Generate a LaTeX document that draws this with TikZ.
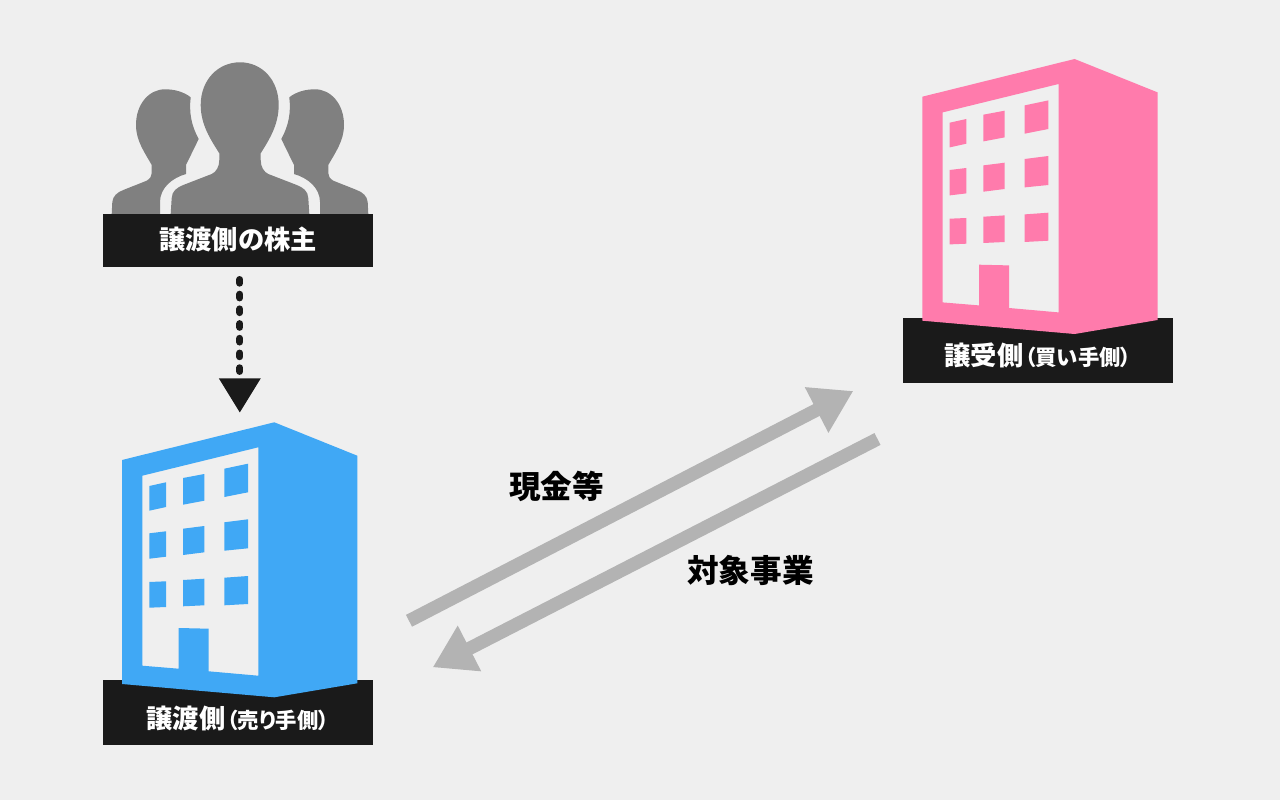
\documentclass[tikz,border=0pt]{standalone}
\usepackage{fontspec}
\setmainfont{Noto Sans CJK JP}[RawFeature=+palt]
\usetikzlibrary{arrows.meta, positioning}
\definecolor{pagegray}{RGB}{239, 239, 239}
\definecolor{sellerblue}{RGB}{64, 168, 245}
\definecolor{buyerpink}{RGB}{255, 123, 172}
\definecolor{ownergray}{RGB}{128, 128, 128}
\definecolor{boxblack}{RGB}{26, 26, 26}
\definecolor{flowgray}{RGB}{179, 179, 179}
\newcommand{\bigtext}{\fontsize{18.7}{22}\selectfont\bfseries}
\newcommand{\smalltext}{\fontsize{15.2}{22}\selectfont\bfseries}
\tikzset{
  namebox/.style={fill=boxblack, text=white, inner sep=0pt, minimum width=6.76cm, text height=1.2cm, text depth=.425cm, font=\bigtext},
  ownerbox/.style={namebox, text height=.8925cm, text depth=.4325cm},
  flowlabel/.style={font=\fontsize{22.5}{26}\selectfont\bfseries, text=black, inner sep=0pt},
  flow/.style={draw=flowgray, line width=9.46pt, -{Triangle[length=29.4pt, width=34.4pt]}},
  dotted line/.style={draw=boxblack, line width=5pt, line cap=round, dash pattern=on 2.6pt off 7.86pt, -{Triangle[length=24.5pt, width=28.5pt]}},
  building/.pic={
    \fill[even odd rule, pic actions]
      (122,460) -- (274.3,422.3) -- (357.3,455.7) -- (357.3,683.3) -- (274.3,697.3) -- (122,684) -- cycle
      (142.3,475.7) -- (258.3,447.3) -- (258.3,675.7) -- (208.7,671.3) -- (208.7,628.7) -- (178.7,628) -- (178.7,668.7) -- (142.3,665.7) -- cycle
      (149.3,486) -- (166,482.3) -- (166,507) -- (149.3,510.7) -- cycle
      (183,478) -- (204.3,474) -- (204.3,500.7) -- (183,504.7) -- cycle
      (224.3,468.7) -- (248,463.7) -- (248,492.3) -- (224.3,497) -- cycle
      (149.3,533.3) -- (166,531.3) -- (166,556.7) -- (149.3,558.7) -- cycle
      (183,528.7) -- (204.3,526) -- (204.3,552.3) -- (183,555) -- cycle
      (224.3,522.3) -- (248,519.3) -- (248,548.3) -- (224.3,550.7) -- cycle
      (149.3,582) -- (166,581.3) -- (166,607) -- (149.3,607.7) -- cycle
      (183,580) -- (204.3,578.7) -- (204.3,605.3) -- (183,606.3) -- cycle
      (224.3,577.7) -- (248,576) -- (248,604) -- (224.3,605.3) -- cycle;
  },
  sideperson/.pic={
    \fill[pic actions]
      (111.7,214) -- (112.3,202) .. controls (113,196) and (117,192.5) .. (123.3,190) -- (146.7,180.7)
      .. controls (150,178.5) and (151.7,176.5) .. (151.7,173.3) -- (151.7,165)
      .. controls (145,153) and (136,141) .. (136,125)
      .. controls (136,104) and (149,89.3) .. (165,89.3)
      .. controls (175,89.3) and (184,92) .. (190.7,97.3)
      .. controls (189,112) and (191,125) .. (198.7,139)
      -- (186,165) -- (186,174)
      .. controls (172,178) and (160,188) .. (160,202) -- (160,214) -- cycle;
  }
}

\begin{document}
\begin{tikzpicture}[x=0.025cm, y=-0.025cm]
  % Page
  \fill[pagegray] (0,0) rectangle (1280,800);
  \useasboundingbox (0,0) rectangle (1280,800);

  % Owners
  \pic[fill=ownergray] at (0,0) {sideperson};
  \pic[fill=ownergray, xscale=-1] at (480,0) {sideperson};
  \fill[ownergray] (170.7,214) -- (171.7,198) .. controls (172,191) and (177,187.5) .. (183.3,185) -- (211.7,174)
    .. controls (216,172) and (219.3,167) .. (219.3,160) -- (219.3,153.3)
    .. controls (211,140) and (200.7,125) .. (200.7,105)
    .. controls (200.7,80) and (218,62.3) .. (240,62.3)
    .. controls (262,62.3) and (278.7,80) .. (278.7,105)
    .. controls (278.7,125) and (269,140) .. (260.7,153.3) -- (260.7,160)
    .. controls (260.7,167) and (264,172) .. (268.3,174) -- (296.7,185)
    .. controls (303,187.5) and (308,191) .. (308.3,198) -- (309.3,214) -- cycle;
  \node[ownerbox] (ownerlabel) at (238,240.5) {譲渡側の株主};

  % Seller
  \node[namebox] (sellerlabel) at (238,712.8) {譲渡側\kern1pt{\smalltext（売り手側）}};
  \pic[fill=sellerblue] at (0,0) {building};

  % Buyer
  \node[namebox] (buyerlabel) at (1038,350.4) {譲受側\kern1pt{\smalltext（買い手側）}};
  \pic[fill=buyerpink] at (800.3,-363.3) {building};

  % Ownership
  \coordinate (sellertop) at (239.8,412.7);
  \draw[dotted line, shorten <=8.7pt] (ownerlabel.south -| sellertop) -- (sellertop);

  % Flows
  \coordinate (cashstart) at (409,620.8);
  \coordinate (cashend) at (853.3,391);
  \coordinate (bizstart) at (877.5,439);
  \coordinate (bizend) at (432.7,667.3);
  \draw[flow] (cashstart) -- (cashend);
  \draw[flow] (bizstart) -- (bizend);
  \node[flowlabel] (cashlabel) at (556.5,486) {現金等};
  \node[flowlabel] (bizlabel) at (750.5,570) {対象事業};
\end{tikzpicture}
\end{document}
